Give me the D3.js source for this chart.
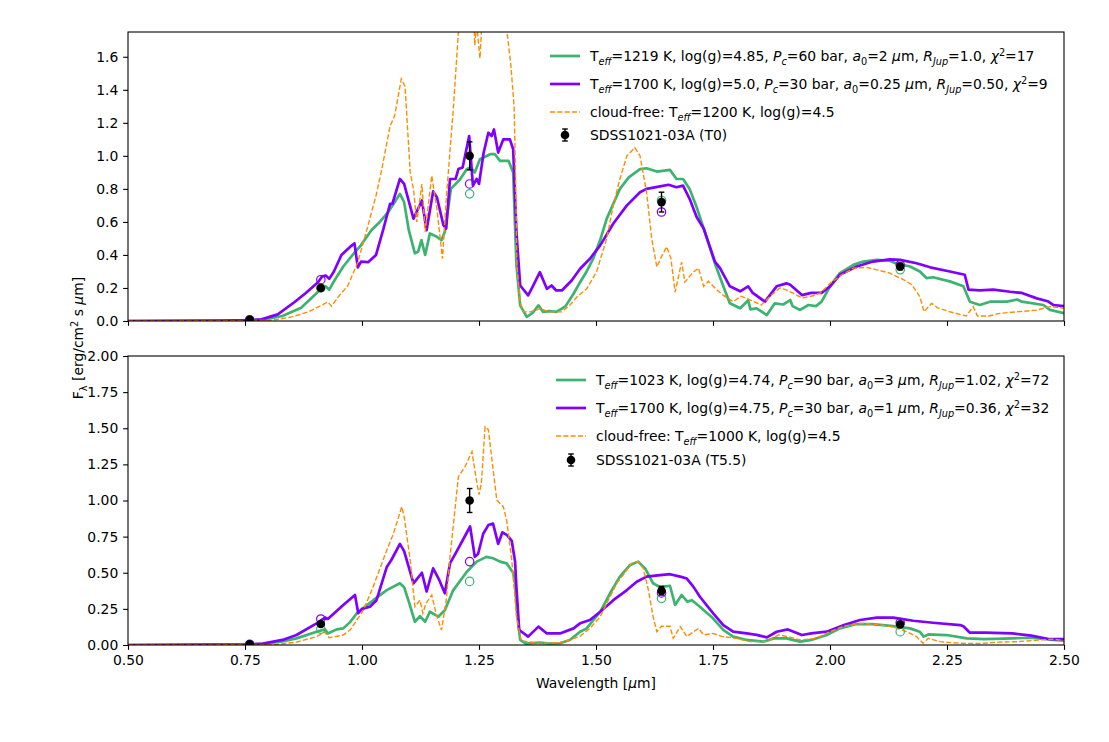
<!DOCTYPE html>
<html><head><meta charset="utf-8">
<script src="https://cdn.jsdelivr.net/npm/d3@7"></script>
<style>body{margin:0;background:#fff} text{font-family:"DejaVu Sans",sans-serif;fill:#000}</style>
</head><body><svg id="c" width="1109" height="742"></svg>
<script>
// ---------------- DATA ----------------
const xTicks = [0.5,0.75,1.0,1.25,1.5,1.75,2.0,2.25,2.5];
const yTicksTop = [0,0.2,0.4,0.6,0.8,1.0,1.2,1.4,1.6];
const yTicksBottom = [0,0.25,0.5,0.75,1.0,1.25,1.5,1.75,2.0];

const topGreen = [[0.50,0],[0.70,0.002],[0.76,0.004],[0.79,0.008],[0.83,0.03],[0.87,0.08],[0.90,0.16],[0.912,0.195],[0.922,0.21],[0.93,0.19],[0.942,0.25],[0.96,0.33],[0.98,0.40],[0.998,0.46],[1.02,0.55],[1.038,0.60],[1.056,0.66],[1.07,0.72],[1.081,0.77],[1.09,0.72],[1.10,0.55],[1.113,0.41],[1.12,0.42],[1.127,0.49],[1.135,0.40],[1.145,0.53],[1.16,0.51],[1.17,0.49],[1.177,0.54],[1.19,0.80],[1.21,0.86],[1.224,0.92],[1.232,0.93],[1.241,0.90],[1.252,0.98],[1.274,1.01],[1.284,1.01],[1.295,0.97],[1.313,0.97],[1.323,0.90],[1.330,0.34],[1.338,0.095],[1.352,0.025],[1.365,0.05],[1.377,0.095],[1.387,0.055],[1.40,0.06],[1.415,0.055],[1.427,0.075],[1.435,0.09],[1.452,0.165],[1.466,0.235],[1.48,0.30],[1.494,0.377],[1.51,0.50],[1.523,0.62],[1.537,0.71],[1.551,0.80],[1.57,0.87],[1.594,0.92],[1.608,0.925],[1.63,0.905],[1.658,0.915],[1.672,0.86],[1.686,0.86],[1.70,0.80],[1.715,0.69],[1.736,0.51],[1.754,0.35],[1.772,0.21],[1.786,0.107],[1.808,0.077],[1.82,0.11],[1.825,0.127],[1.83,0.07],[1.843,0.077],[1.865,0.036],[1.882,0.107],[1.90,0.10],[1.915,0.127],[1.92,0.09],[1.936,0.067],[1.954,0.097],[1.97,0.09],[1.982,0.117],[2.0,0.21],[2.021,0.29],[2.05,0.34],[2.071,0.36],[2.10,0.37],[2.128,0.365],[2.14,0.35],[2.171,0.33],[2.192,0.30],[2.206,0.26],[2.22,0.265],[2.256,0.24],[2.285,0.21],[2.299,0.117],[2.32,0.097],[2.342,0.117],[2.378,0.117],[2.40,0.13],[2.41,0.117],[2.456,0.097],[2.47,0.067],[2.50,0.047]];

const topPurple = [[0.50,0],[0.70,0.003],[0.76,0.005],[0.785,0.01],[0.82,0.04],[0.856,0.115],[0.88,0.17],[0.906,0.235],[0.915,0.27],[0.923,0.275],[0.93,0.255],[0.94,0.30],[0.956,0.40],[0.975,0.45],[0.984,0.47],[0.991,0.325],[0.998,0.36],[1.013,0.356],[1.03,0.40],[1.045,0.55],[1.06,0.71],[1.065,0.71],[1.081,0.86],[1.09,0.83],[1.11,0.62],[1.128,0.73],[1.138,0.55],[1.152,0.785],[1.16,0.75],[1.174,0.58],[1.18,0.56],[1.188,0.86],[1.20,0.86],[1.206,0.92],[1.215,0.93],[1.229,1.12],[1.237,0.82],[1.245,0.86],[1.25,0.83],[1.26,1.02],[1.27,1.14],[1.277,1.12],[1.282,1.16],[1.291,1.02],[1.302,1.10],[1.316,1.10],[1.323,1.04],[1.33,0.54],[1.338,0.215],[1.355,0.155],[1.365,0.21],[1.38,0.296],[1.395,0.195],[1.405,0.215],[1.415,0.185],[1.427,0.185],[1.448,0.245],[1.466,0.316],[1.487,0.377],[1.509,0.458],[1.537,0.59],[1.566,0.70],[1.594,0.78],[1.608,0.80],[1.637,0.815],[1.655,0.825],[1.672,0.81],[1.686,0.82],[1.70,0.74],[1.715,0.63],[1.73,0.56],[1.754,0.36],[1.765,0.32],[1.786,0.21],[1.808,0.18],[1.825,0.21],[1.835,0.17],[1.861,0.117],[1.886,0.21],[1.907,0.228],[1.915,0.22],[1.94,0.157],[1.96,0.17],[1.982,0.17],[2.0,0.21],[2.021,0.28],[2.057,0.33],[2.092,0.36],[2.128,0.373],[2.15,0.37],[2.185,0.35],[2.214,0.325],[2.256,0.30],[2.288,0.28],[2.296,0.19],[2.32,0.185],[2.349,0.19],[2.385,0.177],[2.41,0.17],[2.442,0.137],[2.465,0.12],[2.477,0.097],[2.50,0.09]];

const topOrange = [[0.50,0],[0.80,0.003],[0.82,0.01],[0.85,0.025],[0.885,0.055],[0.91,0.09],[0.927,0.115],[0.935,0.09],[0.949,0.145],[0.97,0.215],[0.991,0.356],[1.013,0.58],[1.03,0.76],[1.041,0.90],[1.06,1.18],[1.07,1.245],[1.084,1.466],[1.092,1.42],[1.103,0.90],[1.11,0.80],[1.117,0.60],[1.128,0.83],[1.135,0.54],[1.149,0.88],[1.16,0.68],[1.172,0.377],[1.18,0.74],[1.195,1.28],[1.206,1.75],[1.215,1.95],[1.228,2.0],[1.238,1.85],[1.241,1.67],[1.245,1.80],[1.252,1.59],[1.258,1.9],[1.27,2.05],[1.29,2.0],[1.31,1.75],[1.318,1.55],[1.325,1.30],[1.328,0.90],[1.331,0.34],[1.338,0.11],[1.345,0.055],[1.36,0.055],[1.38,0.075],[1.40,0.055],[1.427,0.055],[1.444,0.095],[1.459,0.145],[1.48,0.195],[1.501,0.296],[1.523,0.50],[1.537,0.70],[1.551,0.86],[1.566,1.00],[1.583,1.05],[1.594,1.00],[1.608,0.78],[1.619,0.50],[1.63,0.327],[1.64,0.39],[1.651,0.45],[1.66,0.38],[1.669,0.175],[1.683,0.356],[1.69,0.235],[1.70,0.27],[1.708,0.296],[1.719,0.32],[1.73,0.21],[1.74,0.24],[1.758,0.19],[1.77,0.16],[1.793,0.117],[1.81,0.15],[1.83,0.127],[1.853,0.097],[1.875,0.157],[1.893,0.20],[1.905,0.19],[1.92,0.17],[1.94,0.14],[1.96,0.15],[1.98,0.17],[2.0,0.228],[2.025,0.28],[2.05,0.32],[2.078,0.325],[2.10,0.31],[2.128,0.29],[2.157,0.25],[2.175,0.22],[2.192,0.147],[2.201,0.056],[2.217,0.107],[2.23,0.08],[2.256,0.056],[2.291,0.03],[2.306,0.087],[2.315,0.03],[2.34,0.03],[2.36,0.045],[2.40,0.056],[2.44,0.065],[2.47,0.087],[2.50,0.077]];

const bottomGreen = [[0.50,0],[0.76,0.003],[0.788,0.008],[0.83,0.025],[0.86,0.046],[0.903,0.092],[0.921,0.108],[0.927,0.08],[0.946,0.108],[0.96,0.115],[0.975,0.16],[0.989,0.22],[1.024,0.31],[1.053,0.38],[1.081,0.427],[1.09,0.40],[1.10,0.30],[1.113,0.161],[1.124,0.20],[1.135,0.161],[1.145,0.23],[1.163,0.196],[1.177,0.24],[1.195,0.38],[1.224,0.507],[1.245,0.577],[1.266,0.61],[1.28,0.60],[1.295,0.577],[1.309,0.565],[1.323,0.50],[1.327,0.427],[1.332,0.196],[1.338,0.035],[1.35,0.01],[1.38,0.017],[1.40,0.01],[1.423,0.012],[1.444,0.035],[1.466,0.092],[1.48,0.115],[1.509,0.23],[1.53,0.358],[1.551,0.473],[1.573,0.554],[1.59,0.577],[1.605,0.53],[1.622,0.427],[1.637,0.40],[1.658,0.41],[1.669,0.277],[1.683,0.346],[1.695,0.30],[1.705,0.31],[1.72,0.27],[1.75,0.185],[1.772,0.104],[1.793,0.058],[1.822,0.035],[1.857,0.023],[1.88,0.046],[1.907,0.046],[1.936,0.023],[1.96,0.035],[1.993,0.069],[2.021,0.115],[2.057,0.145],[2.09,0.145],[2.135,0.131],[2.171,0.115],[2.192,0.092],[2.20,0.058],[2.21,0.073],[2.249,0.069],[2.292,0.046],[2.33,0.04],[2.39,0.046],[2.43,0.05],[2.477,0.035],[2.50,0.03]];

const bottomPurple = [[0.50,0],[0.76,0.004],[0.788,0.01],[0.83,0.035],[0.86,0.069],[0.903,0.15],[0.921,0.19],[0.927,0.18],[0.96,0.277],[0.985,0.346],[0.992,0.22],[1.0,0.25],[1.017,0.265],[1.031,0.31],[1.053,0.54],[1.063,0.59],[1.081,0.70],[1.09,0.65],[1.11,0.427],[1.128,0.50],[1.138,0.37],[1.152,0.53],[1.165,0.45],[1.177,0.358],[1.188,0.565],[1.202,0.646],[1.216,0.73],[1.231,0.82],[1.241,0.61],[1.248,0.63],[1.259,0.77],[1.27,0.83],[1.28,0.84],[1.291,0.70],[1.30,0.78],[1.31,0.76],[1.32,0.72],[1.327,0.58],[1.33,0.40],[1.336,0.104],[1.355,0.058],[1.377,0.127],[1.395,0.08],[1.423,0.08],[1.452,0.115],[1.466,0.15],[1.487,0.173],[1.509,0.23],[1.537,0.31],[1.566,0.38],[1.587,0.438],[1.608,0.473],[1.637,0.484],[1.658,0.49],[1.68,0.473],[1.694,0.46],[1.708,0.404],[1.722,0.334],[1.75,0.22],[1.772,0.138],[1.793,0.092],[1.822,0.08],[1.843,0.07],[1.865,0.053],[1.886,0.092],[1.91,0.108],[1.94,0.069],[1.96,0.08],[1.993,0.092],[2.03,0.138],[2.064,0.173],[2.10,0.19],[2.135,0.19],[2.178,0.168],[2.22,0.154],[2.278,0.138],[2.285,0.13],[2.299,0.085],[2.33,0.085],[2.39,0.08],[2.43,0.065],[2.47,0.04],[2.50,0.04]];

const bottomOrange = [[0.50,0],[0.80,0.002],[0.82,0.005],[0.86,0.02],[0.903,0.058],[0.92,0.09],[0.93,0.05],[0.96,0.069],[0.975,0.105],[0.989,0.173],[1.003,0.242],[1.024,0.404],[1.049,0.623],[1.067,0.77],[1.085,0.957],[1.09,0.89],[1.103,0.588],[1.113,0.265],[1.124,0.31],[1.13,0.22],[1.137,0.29],[1.149,0.346],[1.16,0.196],[1.17,0.104],[1.18,0.31],[1.188,0.61],[1.206,1.165],[1.22,1.234],[1.235,1.338],[1.245,1.13],[1.25,1.04],[1.255,1.12],[1.263,1.51],[1.27,1.49],[1.288,1.003],[1.302,0.957],[1.309,0.865],[1.32,0.588],[1.33,0.20],[1.34,0.03],[1.38,0.01],[1.423,0.017],[1.444,0.035],[1.466,0.062],[1.487,0.115],[1.509,0.196],[1.53,0.334],[1.544,0.427],[1.558,0.484],[1.576,0.565],[1.59,0.577],[1.601,0.53],[1.612,0.38],[1.622,0.196],[1.63,0.092],[1.64,0.13],[1.658,0.13],[1.665,0.046],[1.68,0.127],[1.694,0.058],[1.719,0.115],[1.73,0.07],[1.75,0.08],[1.77,0.058],[1.80,0.046],[1.83,0.023],[1.865,0.023],[1.89,0.07],[1.91,0.058],[1.936,0.035],[1.97,0.046],[2.0,0.092],[2.03,0.131],[2.064,0.15],[2.10,0.143],[2.135,0.125],[2.164,0.092],[2.185,0.058],[2.199,0.012],[2.21,0.046],[2.235,0.023],[2.278,0.012],[2.32,0.01],[2.36,0.02],[2.40,0.023],[2.45,0.035],[2.48,0.04],[2.50,0.03]];

const photX = [0.76, 0.912, 1.23, 1.64, 2.15];
const topObs = [0.008, 0.20, 1.0, 0.72, 0.33];
const topObsErr = [0.003, 0.01, 0.085, 0.06, 0.02];
const topGreenPhot = [0.005, 0.20, 0.77, 0.73, 0.31];
const topPurplePhot = [0.008, 0.25, 0.83, 0.66, 0.34];
const bottomObs = [0.005, 0.145, 1.0, 0.376, 0.143];
const bottomObsErr = [0.002, 0.01, 0.083, 0.03, 0.01];
const bottomGreenPhot = [0.003, 0.11, 0.44, 0.323, 0.092];
const bottomPurplePhot = [0.005, 0.18, 0.577, 0.36, 0.155];

// legend labels: [text, style]  style: n normal, i italic, sub, subi, sup
const topLabels = [
 [["T","n"],["eff","subi"],["=1219 K, log(g)=4.85, ","n"],["P","i"],["c","subi"],["=60 bar, ","n"],["a","i"],["0","sub"],["=2 ","n"],["μ","i"],["m, ","n"],["R","i"],["Jup","subi"],["=1.0, ","n"],["χ","i"],["2","sup"],["=17","n"]],
 [["T","n"],["eff","subi"],["=1700 K, log(g)=5.0, ","n"],["P","i"],["c","subi"],["=30 bar, ","n"],["a","i"],["0","sub"],["=0.25 ","n"],["μ","i"],["m, ","n"],["R","i"],["Jup","subi"],["=0.50, ","n"],["χ","i"],["2","sup"],["=9","n"]],
 [["cloud-free: T","n"],["eff","subi"],["=1200 K, log(g)=4.5","n"]],
 [["SDSS1021-03A (T0)","n"]]
];
const bottomLabels = [
 [["T","n"],["eff","subi"],["=1023 K, log(g)=4.74, ","n"],["P","i"],["c","subi"],["=90 bar, ","n"],["a","i"],["0","sub"],["=3 ","n"],["μ","i"],["m, ","n"],["R","i"],["Jup","subi"],["=1.02, ","n"],["χ","i"],["2","sup"],["=72","n"]],
 [["T","n"],["eff","subi"],["=1700 K, log(g)=4.75, ","n"],["P","i"],["c","subi"],["=30 bar, ","n"],["a","i"],["0","sub"],["=1 ","n"],["μ","i"],["m, ","n"],["R","i"],["Jup","subi"],["=0.36, ","n"],["χ","i"],["2","sup"],["=32","n"]],
 [["cloud-free: T","n"],["eff","subi"],["=1000 K, log(g)=4.5","n"]],
 [["SDSS1021-03A (T5.5)","n"]]
];
const yLabel = [["F","n"],["λ","sub"],[" [erg/cm","n"],["2","sup"],[" s ","n"],["μ","i"],["m]","n"]];
const xLabel = [["Wavelength [","n"],["μ","i"],["m]","n"]];

// ---------------- DRAW ----------------
const GREEN = "#3cb371", PURPLE = "#7f00ff", ORANGE = "#ff8c00";
const FS = 13.9;
const LW = 2.7, LWD = 1.39, DASH = "5.1,2.2", TICK = 4.86;
const svg = d3.select("#c");
const x = d3.scaleLinear().domain([0.5, 2.5]).range([128, 1064]);

function rich(sel, segs) {
  let shift = 0;
  segs.forEach(([t, s]) => {
    let target = 0, size = null, italic = false;
    if (s === "i") italic = true;
    if (s === "sub" || s === "subi") { target = 3.5; size = FS * 0.7; italic = s === "subi"; }
    if (s === "sup") { target = -5.5; size = FS * 0.7; }
    const ts = sel.append("tspan").text(t).attr("dy", target - shift);
    if (size) ts.attr("font-size", size);
    if (italic) ts.attr("font-style", "italic");
    shift = target;
  });
  if (shift !== 0) sel.append("tspan").text("\u200b").attr("dy", -shift);
}

const panels = [
  { top: 32, bottom: 321, ymax: 1.75, ticks: yTicksTop, fmt: d3.format(".1f"), showX: false,
    green: topGreen, purple: topPurple, orange: topOrange,
    obs: topObs, err: topObsErr, gp: topGreenPhot, pp: topPurplePhot,
    labels: topLabels, leg: { x0: 550, tx: 590, ys: [56, 84, 112, 135] } },
  { top: 356, bottom: 645, ymax: 2.0, ticks: yTicksBottom, fmt: d3.format(".2f"), showX: true,
    green: bottomGreen, purple: bottomPurple, orange: bottomOrange,
    obs: bottomObs, err: bottomObsErr, gp: bottomGreenPhot, pp: bottomPurplePhot,
    labels: bottomLabels, leg: { x0: 556, tx: 596, ys: [380, 408, 436, 460] } }
];

panels.forEach((p, i) => {
  const y = d3.scaleLinear().domain([0, p.ymax]).range([p.bottom, p.top]);
  const g = svg.append("g");
  const cid = "clip" + i;
  svg.append("defs").append("clipPath").attr("id", cid)
    .append("rect").attr("x", 128).attr("y", p.top).attr("width", 936).attr("height", p.bottom - p.top);

  const line = d3.line().x(d => x(d[0])).y(d => y(d[1]));
  const plot = g.append("g").attr("clip-path", `url(#${cid})`);
  plot.append("path").attr("d", line(p.green)).attr("fill", "none").attr("stroke", GREEN).attr("stroke-width", LW).attr("stroke-linejoin", "round");
  plot.append("path").attr("d", line(p.purple)).attr("fill", "none").attr("stroke", PURPLE).attr("stroke-width", LW).attr("stroke-linejoin", "round");
  plot.append("path").attr("d", line(p.orange)).attr("fill", "none").attr("stroke", ORANGE).attr("stroke-width", LWD).attr("stroke-dasharray", DASH);

  // model photometry circles
  plot.selectAll(null).data(photX).enter().append("circle")
    .attr("cx", d => x(d)).attr("cy", (d, k) => y(p.gp[k])).attr("r", 4.2)
    .attr("fill", "none").attr("stroke", GREEN).attr("stroke-width", 1.2);
  plot.selectAll(null).data(photX).enter().append("circle")
    .attr("cx", d => x(d)).attr("cy", (d, k) => y(p.pp[k])).attr("r", 4.2)
    .attr("fill", "none").attr("stroke", PURPLE).attr("stroke-width", 1.2);

  // observed with error bars
  const eb = plot.selectAll(null).data(photX).enter().append("g");
  eb.append("line").attr("x1", d => x(d)).attr("x2", d => x(d))
    .attr("y1", (d, k) => y(p.obs[k] - p.err[k])).attr("y2", (d, k) => y(p.obs[k] + p.err[k]))
    .attr("stroke", "#000").attr("stroke-width", 1.4);
  [-1, 1].forEach(sg => {
    eb.append("line").attr("x1", d => x(d) - 2.8).attr("x2", d => x(d) + 2.8)
      .attr("y1", (d, k) => y(p.obs[k] + sg * p.err[k])).attr("y2", (d, k) => y(p.obs[k] + sg * p.err[k]))
      .attr("stroke", "#000").attr("stroke-width", 1.4);
  });
  eb.append("circle").attr("cx", d => x(d)).attr("cy", (d, k) => y(p.obs[k])).attr("r", 4.3).attr("fill", "#000");

  // axes
  const xa = g.append("g").attr("transform", `translate(0,${p.bottom})`)
    .call(d3.axisBottom(x).tickValues(xTicks).tickSize(TICK).tickPadding(4.9).tickFormat(p.showX ? d3.format(".2f") : ""));
  const ya = g.append("g").attr("transform", "translate(128,0)")
    .call(d3.axisLeft(y).tickValues(p.ticks).tickSize(TICK).tickPadding(4.9).tickFormat(p.fmt));
  [xa, ya].forEach(a => {
    a.select(".domain").remove();
    a.selectAll("line").attr("stroke", "#000").attr("stroke-width", 1.1);
    a.selectAll("text").attr("font-size", FS).attr("font-family", "DejaVu Sans").attr("fill", "#000");
  });
  g.append("rect").attr("x", 128).attr("y", p.top).attr("width", 936).attr("height", p.bottom - p.top)
    .attr("fill", "none").attr("stroke", "#000").attr("stroke-width", 1.1);

  // legend
  const L = p.leg;
  const lg = g.append("g");
  lg.append("line").attr("x1", L.x0).attr("x2", L.x0 + 30).attr("y1", L.ys[0]).attr("y2", L.ys[0]).attr("stroke", GREEN).attr("stroke-width", LW);
  lg.append("line").attr("x1", L.x0).attr("x2", L.x0 + 30).attr("y1", L.ys[1]).attr("y2", L.ys[1]).attr("stroke", PURPLE).attr("stroke-width", LW);
  lg.append("line").attr("x1", L.x0).attr("x2", L.x0 + 30).attr("y1", L.ys[2]).attr("y2", L.ys[2]).attr("stroke", ORANGE).attr("stroke-width", LWD).attr("stroke-dasharray", DASH);
  const mx = L.x0 + 15, my = L.ys[3];
  lg.append("line").attr("x1", mx).attr("x2", mx).attr("y1", my - 6).attr("y2", my + 6).attr("stroke", "#000").attr("stroke-width", 1.4);
  lg.append("line").attr("x1", mx - 2.8).attr("x2", mx + 2.8).attr("y1", my - 6).attr("y2", my - 6).attr("stroke", "#000").attr("stroke-width", 1.4);
  lg.append("line").attr("x1", mx - 2.8).attr("x2", mx + 2.8).attr("y1", my + 6).attr("y2", my + 6).attr("stroke", "#000").attr("stroke-width", 1.4);
  lg.append("circle").attr("cx", mx).attr("cy", my).attr("r", 4.3).attr("fill", "#000");
  p.labels.forEach((segs, k) => {
    const t = lg.append("text").attr("x", L.tx).attr("y", L.ys[k] + 5).attr("font-size", FS);
    rich(t, segs);
  });
});

// axis labels
const yl = svg.append("text").attr("transform", "translate(83,338) rotate(-90)").attr("text-anchor", "middle").attr("font-size", FS);
rich(yl, yLabel);
const xl = svg.append("text").attr("x", 596).attr("y", 688).attr("text-anchor", "middle").attr("font-size", FS);
rich(xl, xLabel);
</script></body></html>
